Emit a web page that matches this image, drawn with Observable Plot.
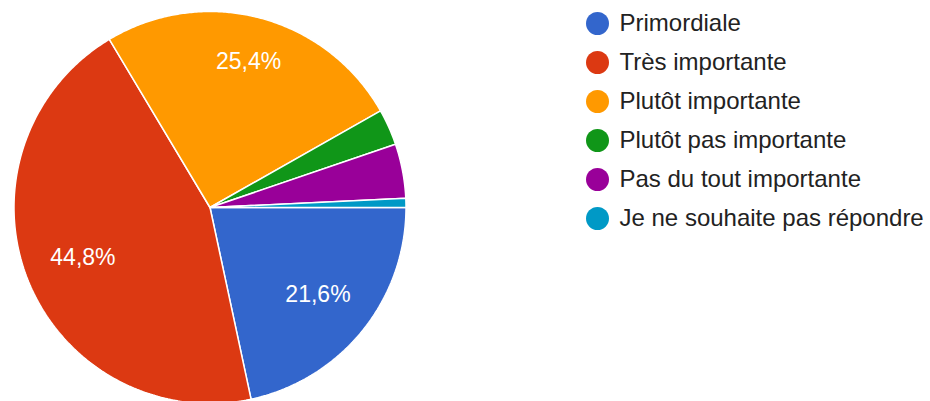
<!DOCTYPE html>
<html>
<head>
<meta charset="utf-8">
<script src="https://cdn.jsdelivr.net/npm/d3@7"></script>
<script src="https://cdn.jsdelivr.net/npm/@observablehq/plot@0.6"></script>
<style>
  html, body { margin: 0; padding: 0; background: #fff; }
  #wrap { display: flex; flex-direction: row; width: 930px; height: 401px; overflow: hidden; }
  svg { font-family: "Liberation Sans", Arial, sans-serif; }
</style>
</head>
<body>
<div id="wrap"></div>
<script>
const categories = ["Primordiale", "Très importante", "Plutôt importante", "Plutôt pas importante", "Pas du tout importante", "Je ne souhaite pas répondre"];
const counts = [29, 60, 34, 4, 6, 1];
const colors = ["#3366cc", "#dc3912", "#ff9900", "#109618", "#990099", "#0099c6"];

const FONT = "'Liberation Sans', Arial, sans-serif";
const total = d3.sum(counts);
const data = categories.map((c, i) => ({category: c, count: counts[i], color: colors[i]}));

const arcs = d3.pie().value(d => d.count).sort(null)
  .startAngle(Math.PI / 2).endAngle(Math.PI / 2 + 2 * Math.PI)(data);

// polygon outline of every slice (unit circle), derived from the pie angles
const outline = [];
arcs.forEach((a, i) => {
  const n = Math.max(2, Math.ceil((a.endAngle - a.startAngle) / (Math.PI / 360)));
  outline.push({k: i, x: 0, y: 0, color: a.data.color});
  for (let j = 0; j <= n; j++) {
    const t = a.startAngle + (a.endAngle - a.startAngle) * j / n;
    outline.push({k: i, x: Math.sin(t), y: Math.cos(t), color: a.data.color});
  }
  outline.push({k: i, x: 0, y: 0, color: a.data.color});
});

const cx = 209.5, cy = 207, R = 196;
const labelSize = 23;
// place each label so the outer corner of its text box sits at a fixed radius
const T = 170 / R, hh = 8.3 / R;
const labels = arcs.filter(a => a.data.count / total >= 0.05).map(a => {
  const m = (a.startAngle + a.endAngle) / 2;
  const s = Math.sin(m), c = Math.cos(m);
  const text = (a.data.count / total * 100).toFixed(1).replace(".", ",") + "%";
  const hw = (2.835 * labelSize / 2) / R;
  const b = hw * Math.abs(s) + hh * Math.abs(c);
  const d = -b + Math.sqrt(b * b - (hw * hw + hh * hh - T * T));
  return {x: s * d, y: c * d, text};
});

const pie = Plot.plot({
  width: 560, height: 401,
  margin: 0,
  x: {domain: [-1, 1], range: [cx - R, cx + R], axis: null},
  y: {domain: [-1, 1], range: [cy + R, cy - R], axis: null},
  marks: [
    Plot.line(outline, {x: "x", y: "y", z: "k", fill: "color", stroke: "white", strokeWidth: 1.5, strokeLinejoin: "miter", curve: "linear"}),
    Plot.text(labels, {x: "x", y: "y", text: "text", fill: "white", fontSize: labelSize, fontFamily: FONT})
  ]
});

const legend = Plot.plot({
  width: 370, height: 401,
  margin: 0,
  y: {type: "point", domain: categories, range: [21, 219], padding: 0, axis: null},
  marks: [
    Plot.dot(data, {y: "category", fill: "color", r: 11.5, frameAnchor: "left", dx: 37}),
    Plot.text(data, {y: "category", text: "category", frameAnchor: "left", dx: 59, textAnchor: "start", fill: "#222222", fontSize: 24, fontFamily: FONT})
  ]
});

document.getElementById("wrap").append(pie, legend);
</script>
</body>
</html>
